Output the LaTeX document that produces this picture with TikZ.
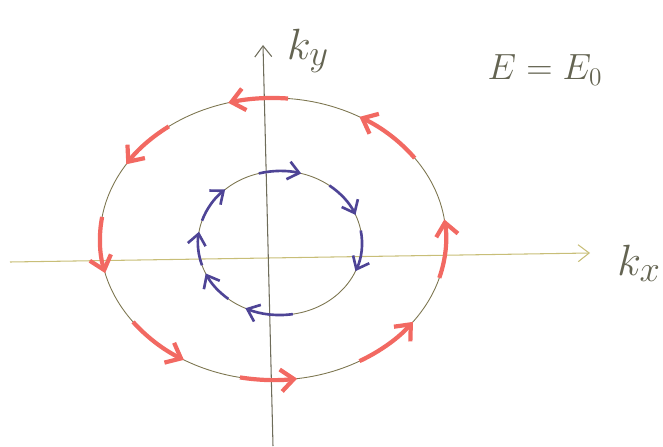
\documentclass[tikz,border=0pt]{standalone}
\usepackage{amsmath}
\usetikzlibrary{arrows.meta}
\definecolor{Pencil}{RGB}{125,118,80}
\definecolor{AxisGray}{RGB}{110,108,90}
\definecolor{AxisYellow}{RGB}{200,190,120}
\definecolor{LightRed}{RGB}{242,105,98}
\definecolor{DarkBlue}{RGB}{78,68,150}
\definecolor{InkGray}{RGB}{100,100,82}

\begin{document}
\begin{tikzpicture}[
    curve/.style={draw=Pencil, line width=0.5pt},
    axis/.style={line width=0.6pt, -{Straight Barb[length=2.2mm, width=3.4mm]}},
    redarrow/.style={draw=LightRed, line width=2.4pt, -{Straight Barb[length=2.6mm, width=4.4mm]}},
    bluearrow/.style={draw=DarkBlue, line width=1.5pt, -{Straight Barb[length=2.2mm, width=3.6mm]}},
    axislabel/.style={text=InkGray, font=\fontsize{30}{36}\selectfont},
    ]
    \useasboundingbox (-5.36,-3.8) rectangle (7.9,5.12);

    % Axes
    \coordinate (xl) at (-5.16,-0.12);
    \coordinate (xr) at (6.44,0.06);
    \coordinate (yb) at (0.1,-3.8);
    \coordinate (yt) at (-0.1,4.22);
    \draw[axis, draw=AxisYellow] (xl) -- (xr);
    \draw[axis, draw=AxisGray] (yb) -- (yt);

    % Labels
    \node[axislabel] (ky) at (0.8,4.1) {$k_y$};
    \node[axislabel] (kx) at (7.42,-0.15) {$k_x$};
    \node[text=InkGray, font=\huge] (energy) at (5.54,3.72) {$E = E_0$};

    % Constant energy contours
    \coordinate (outer) at (0.1,0.34);
    \coordinate (inner) at (0.24,0.26);
    \draw[curve] (outer) ellipse [x radius=3.46, y radius=2.82];
    \draw[curve] (inner) ellipse [x radius=1.64, y radius=1.44];

    % Outer ring, counterclockwise
    \draw[redarrow] (outer) ++(85:3.46 and 2.82) arc[start angle=85, end angle=105, x radius=3.46, y radius=2.82];
    \draw[redarrow] (outer) ++(127:3.46 and 2.82) arc[start angle=127, end angle=148, x radius=3.46, y radius=2.82];
    \draw[redarrow] (outer) ++(171:3.46 and 2.82) arc[start angle=171, end angle=194, x radius=3.46, y radius=2.82];
    \draw[redarrow] (outer) ++(216:3.46 and 2.82) arc[start angle=216, end angle=239, x radius=3.46, y radius=2.82];
    \draw[redarrow] (outer) ++(259:3.46 and 2.82) arc[start angle=259, end angle=278, x radius=3.46, y radius=2.82];
    \draw[redarrow] (outer) ++(300:3.46 and 2.82) arc[start angle=300, end angle=324, x radius=3.46, y radius=2.82];
    \draw[redarrow] (outer) ++(-16:3.46 and 2.82) arc[start angle=-16, end angle=8, x radius=3.46, y radius=2.82];
    \draw[redarrow] (outer) ++(35:3.46 and 2.82) arc[start angle=35, end angle=60, x radius=3.46, y radius=2.82];

    % Inner ring, clockwise
    \draw[bluearrow] (inner) ++(105:1.64 and 1.44) arc[start angle=105, end angle=75, x radius=1.64, y radius=1.44];
    \draw[bluearrow] (inner) ++(53:1.64 and 1.44) arc[start angle=53, end angle=23, x radius=1.64, y radius=1.44];
    \draw[bluearrow] (inner) ++(10:1.64 and 1.44) arc[start angle=10, end angle=-23, x radius=1.64, y radius=1.44];
    \draw[bluearrow] (inner) ++(279:1.64 and 1.44) arc[start angle=279, end angle=245, x radius=1.64, y radius=1.44];
    \draw[bluearrow] (inner) ++(231:1.64 and 1.44) arc[start angle=231, end angle=205, x radius=1.64, y radius=1.44];
    \draw[bluearrow] (inner) ++(198:1.64 and 1.44) arc[start angle=198, end angle=171, x radius=1.64, y radius=1.44];
    \draw[bluearrow] (inner) ++(162:1.64 and 1.44) arc[start angle=162, end angle=132, x radius=1.64, y radius=1.44];
\end{tikzpicture}
\end{document}
